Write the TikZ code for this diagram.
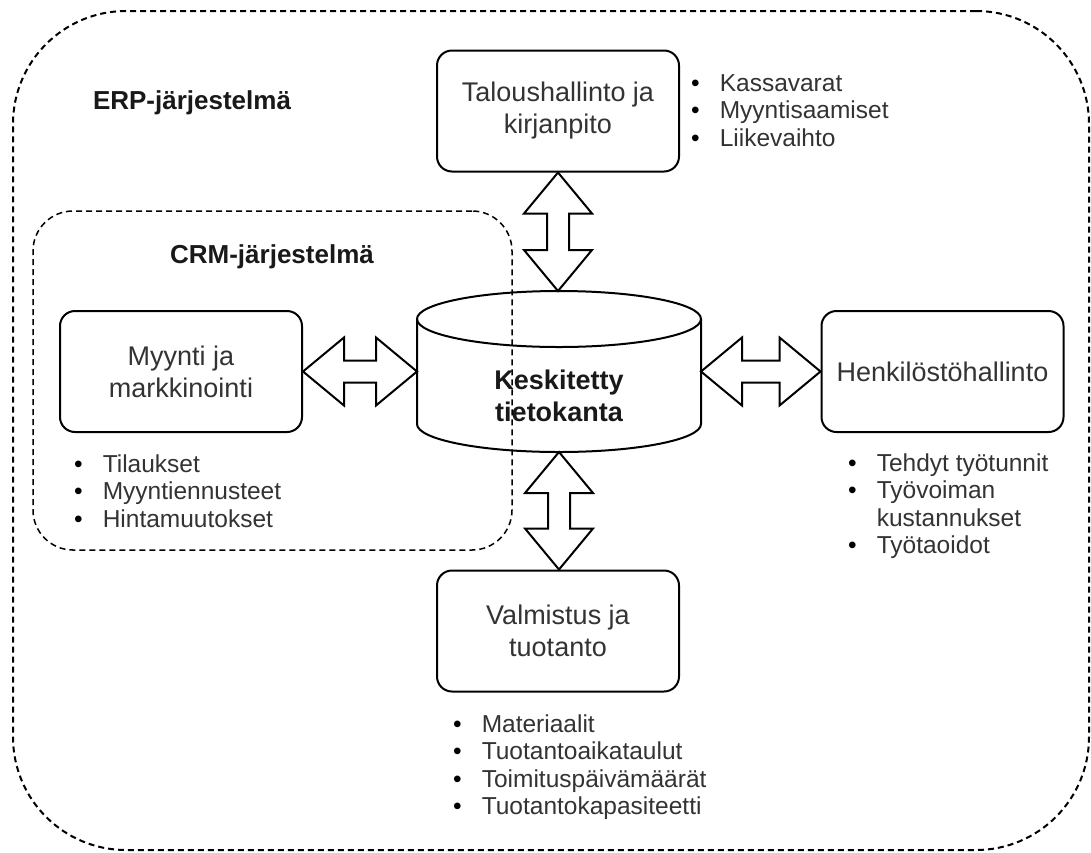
\documentclass[tikz,border=0pt]{standalone}
\usepackage{fontspec}
\setmainfont{Liberation Sans}
\usetikzlibrary{calc}
\definecolor{txt}{RGB}{51,51,51}
% horizontal double block arrow between two anchors at the same height
\newcommand\hfat[2]{\draw[fat] let \p1=(#1), \p2=(#2) in
  (\x1,\y1) -- (\x1+41pt,\y1+34pt) -- (\x1+41pt,\y1+11pt) -- (\x2-41pt,\y1+11pt)
  -- (\x2-41pt,\y1+34pt) -- (\x2,\y1) -- (\x2-41pt,\y1-34pt) -- (\x2-41pt,\y1-11pt)
  -- (\x1+41pt,\y1-11pt) -- (\x1+41pt,\y1-34pt) -- cycle;}
% vertical double block arrow from an upper anchor to a lower one
\newcommand\vfat[2]{\draw[fat] let \p1=(#1), \p2=(#2) in
  (\x1,\y1) -- (\x1+34pt,\y1-41pt) -- (\x1+11pt,\y1-41pt) -- (\x1+11pt,\y2+41pt)
  -- (\x1+34pt,\y2+41pt) -- (\x1,\y2) -- (\x1-34pt,\y2+41pt) -- (\x1-11pt,\y2+41pt)
  -- (\x1-11pt,\y1-41pt) -- (\x1-34pt,\y1-41pt) -- cycle;}
\begin{document}
\begin{tikzpicture}[x=1pt,y=-1pt,
  box/.style={draw, line width=2pt, rounded corners=15pt, minimum width=242pt,
    minimum height=121pt, inner sep=0pt, align=center, text=txt,
    font=\fontsize{27}{32}\selectfont},
  fat/.style={draw, line width=2pt, fill=white, line join=miter},
  lst/.style={anchor=north west, inner sep=0pt, text=txt,
    font=\fontsize{24.5}{27.5}\selectfont},
  group/.style={draw, inner sep=0pt, outer sep=0pt},
  title/.style={font=\bfseries\fontsize{26}{30}\selectfont, text=black!90}]
\useasboundingbox (0,0) rectangle (1091,852);
\fill[white] (0,0) rectangle (1091,852);

% ERP system container
\node[group, line width=2pt, dash pattern=on 6pt off 4pt, rounded corners=113pt,
  minimum width=1076pt, minimum height=839pt] (erp) at (551,430.5) {};
\node[title] (erplabel) at (192,103) {ERP-järjestelmä};

% modules
\node[box] (talous) at (558,111) {Taloushallinto ja\\kirjanpito};
\node[box] (myynti) at (181,371.5) {Myynti ja\\markkinointi};
\node[box] (henk) at (942.5,371.5) {Henkilöstöhallinto};
\node[box] (valm) at (558,631) {Valmistus ja\\tuotanto};

% central database cylinder
\node[minimum width=284pt, minimum height=161pt, inner sep=0pt, outer sep=0pt] (db) at (559,371.5) {};
\draw[line width=2pt, fill=white] let \p1=(db.north west), \p2=(db.south east) in
  (\x1,\y1-28pt) -- (\x1,\y2+28pt)
  arc[start angle=180, end angle=360, x radius=142pt, y radius=28pt]
  -- (\x2,\y1-28pt)
  arc[start angle=0, end angle=180, x radius=142pt, y radius=28pt] -- cycle;
\draw[line width=2pt] let \p1=(db.north west) in
  (\x1,\y1-28pt) arc[start angle=180, end angle=360, x radius=142pt, y radius=28pt];
\node[font=\bfseries\fontsize{27}{32}\selectfont, align=center, text=black!90] (dbtext)
  at (559,396) {Keskitetty\\tietokanta};

% connections to the database
\vfat{talous.south}{db.north}
\vfat{db.south}{valm.north}
\hfat{myynti.east}{db.west}
\hfat{db.east}{henk.west}

% data items of each module
\node[lst] (talist) at (691,72) {\begin{tabular}{@{}l@{\hspace{20pt}}l@{}}
  \textcolor{black}{\textbullet} & Kassavarat\\
  \textcolor{black}{\textbullet} & Myyntisaamiset\\
  \textcolor{black}{\textbullet} & Liikevaihto\end{tabular}};
\node[lst] (mylist) at (74,453) {\begin{tabular}{@{}l@{\hspace{20pt}}l@{}}
  \textcolor{black}{\textbullet} & Tilaukset\\
  \textcolor{black}{\textbullet} & Myyntiennusteet\\
  \textcolor{black}{\textbullet} & Hintamuutokset\end{tabular}};
\node[lst] (helist) at (848,452) {\begin{tabular}{@{}l@{\hspace{20pt}}l@{}}
  \textcolor{black}{\textbullet} & Tehdyt työtunnit\\
  \textcolor{black}{\textbullet} & Työvoiman\\
   & kustannukset\\
  \textcolor{black}{\textbullet} & Työtaoidot\end{tabular}};
\node[lst] (valist) at (453,713) {\begin{tabular}{@{}l@{\hspace{20pt}}l@{}}
  \textcolor{black}{\textbullet} & Materiaalit\\
  \textcolor{black}{\textbullet} & Tuotantoaikataulut\\
  \textcolor{black}{\textbullet} & Toimituspäivämäärät\\
  \textcolor{black}{\textbullet} & Tuotantokapasiteetti\end{tabular}};

% CRM system container
\node[group, line width=1.5pt, dash pattern=on 6pt off 4pt, rounded corners=40pt,
  minimum width=479pt, minimum height=339pt] (crm) at (272.5,380.5) {};
\node[title] (crmlabel) at (272,257) {CRM-järjestelmä};
\end{tikzpicture}
\end{document}
